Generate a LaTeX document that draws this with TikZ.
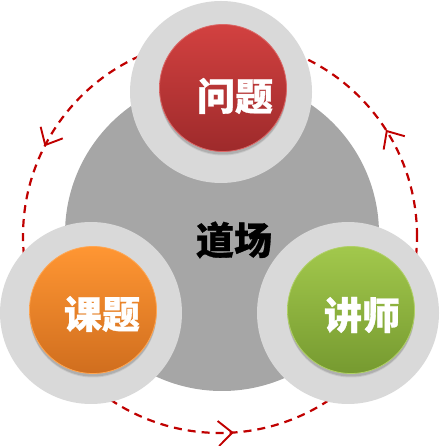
\documentclass[tikz,border=0pt]{standalone}
\usepackage{fontspec}
\newfontfamily\cjk{Noto Sans CJK SC}[BoldFeatures={FakeBold=0.8}]
\usetikzlibrary{decorations.markings}
\definecolor{ringgray}{HTML}{D9D9D9}
\definecolor{biggray}{HTML}{A6A6A6}
\definecolor{dashred}{HTML}{C00000}
\definecolor{redtop}{HTML}{D24140}
\definecolor{redbot}{HTML}{9E2A2B}
\definecolor{ortop}{HTML}{FF9633}
\definecolor{orbot}{HTML}{D06E1E}
\definecolor{grtop}{HTML}{A2C84C}
\definecolor{grbot}{HTML}{769A30}
\tikzset{
  ring/.style={circle, fill=ringgray, minimum size=182pt, inner sep=0pt},
  ball/.style={circle, minimum size=127pt, inner sep=0pt, shading=axis, shading angle=0},
  shadowball/.style={circle, minimum size=127pt, inner sep=0pt, fill=black, opacity=0.12},
  label/.style={font=\cjk\bfseries\fontsize{38}{40}\selectfont, text=white, inner sep=0pt},
  barb/.style={draw=dashred, solid, line width=1.9pt, line join=miter},
}
\newcommand{\barbtip}{\draw[barb] (-14pt,12.5pt) -- (0pt,0pt) -- (-14pt,-12.5pt);}
\begin{document}
\begin{tikzpicture}[x=1pt,y=1pt]
\useasboundingbox (0,0) rectangle (439,446);
% big gray circle
\node[circle, fill=biggray, minimum size=314pt, inner sep=0pt] (hub) at (222,212) {};
% dashed cycle
\coordinate (cyc) at (220,210);
\draw[dashred, line width=2.2pt, dash pattern=on 8pt off 6pt,
  postaction={decorate},
  decoration={markings,
    mark=at position 0.0894 with {\barbtip},
    mark=at position 0.4236 with {\barbtip},
    mark=at position 0.7600 with {\barbtip}}]
  (cyc) circle[radius=197pt];
% rings
\node[ring] (ringtop) at (221,354) {};
\node[ring] (ringleft) at (91,133) {};
\node[ring] (ringright) at (348,133) {};
% shadows
\node[shadowball] at (223,355) {};
\node[shadowball, opacity=0.08] at (223,354) {};
\node[shadowball] at (93,133) {};
\node[shadowball, opacity=0.08] at (93,132) {};
\node[shadowball] at (351,133) {};
\node[shadowball, opacity=0.08] at (351,132) {};
% balls
\node[ball, top color=redtop, bottom color=redbot, draw=redtop!80!white, line width=0.8pt] (q) at (223,358) {};
\node[ball, top color=ortop, bottom color=orbot, draw=ortop!85!white, line width=0.8pt] (k) at (93,136) {};
\node[ball, top color=grtop, bottom color=grbot, draw=grtop!85!white, line width=0.8pt] (j) at (351,136) {};
% labels
\node[label] (tq) at (235,350) {问题};
\node[label] (tk) at (102,132) {课题};
\node[label] (tj) at (362,131) {讲师};
\node[label, text=black] (th) at (234,206) {道场};
\end{tikzpicture}
\end{document}
